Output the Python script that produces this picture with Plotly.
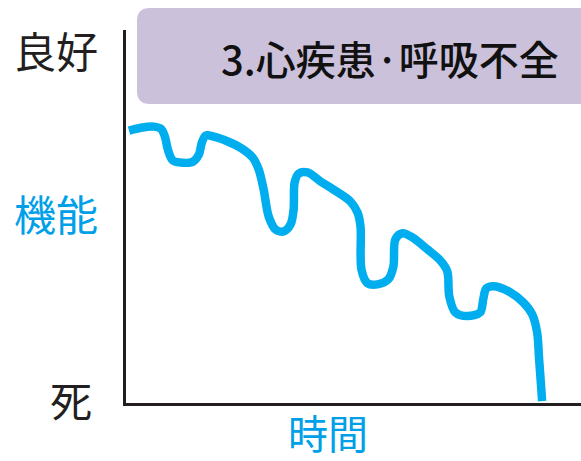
import plotly.graph_objects as go

# Time (0-100 along the axis) and function level (0 = death, 100 = top of axis)
time_vals = [0.66, 3.29, 6.14, 7.68, 8.55, 9.21, 10.31, 12.50, 14.69, 16.01, 16.67, 17.54, 19.30,
             22.37, 25.22, 27.85, 29.17, 30.26, 31.36, 32.89, 34.65, 36.18, 36.84, 37.06, 37.94,
             39.91, 42.76, 45.61, 49.34, 50.88, 51.54, 51.75, 53.07, 55.26, 57.68, 58.77, 59.21,
             60.75, 62.94, 66.23, 69.08, 70.61, 71.05, 72.37, 75.00, 77.85, 78.51, 79.17, 80.70,
             84.43, 87.28, 89.25, 90.35, 90.79, 91.23, 91.45]
function_vals = [73.0, 73.8, 74.1, 73.5, 71.4, 67.9, 65.0, 64.4, 64.7, 66.6, 69.8, 71.7, 71.4,
                 70.1, 68.4, 65.8, 62.6, 57.2, 50.0, 46.5, 46.0, 47.9, 51.9, 59.1, 61.5,
                 61.8, 59.4, 57.2, 54.0, 51.1, 47.3, 35.8, 32.1, 31.8, 33.2, 36.6, 43.9,
                 45.5, 44.4, 41.2, 38.2, 35.3, 28.6, 24.3, 23.3, 24.3, 27.8, 30.7, 31.3,
                 29.7, 27.0, 23.8, 19.0, 11.8, 4.5, 0.5]

title_text = "3.心疾患·呼吸不全"
y_top_label = "良好"
y_mid_label = "機能"
y_bottom_label = "死"
x_label = "時間"

W, H = 581, 461
BLUE = "#00a0e9"
LINE_BLUE = "#00aeef"
DARK = "#231f20"

fig = go.Figure()
fig.add_trace(go.Scatter(
    x=time_vals, y=function_vals, mode="lines",
    line=dict(color=LINE_BLUE, width=8.5, shape="spline", smoothing=0.9),
    hoverinfo="skip", showlegend=False,
))

def px(x):
    return x / W

def py(y):
    return 1 - y / H

# rounded title box
x0, x1, y0, y1, r = 137, 600, 8, 104, 13
path = (f"M {px(x0+r)},{py(y0)} L {px(x1)},{py(y0)} L {px(x1)},{py(y1)} L {px(x0+r)},{py(y1)} "
        f"Q {px(x0)},{py(y1)} {px(x0)},{py(y1-r)} L {px(x0)},{py(y0+r)} "
        f"Q {px(x0)},{py(y0)} {px(x0+r)},{py(y0)} Z")
fig.add_shape(type="path", path=path, xref="paper", yref="paper",
              fillcolor="#cbc1db", line=dict(width=0), layer="below")

font_cjk = "Noto Sans CJK JP"
ann = []
ann.append(dict(text=title_text, x=px(390), y=py(58), font=dict(size=40, color="#111", family=font_cjk, weight=500)))
ann.append(dict(text=y_top_label, x=px(56), y=py(50), font=dict(size=42, color=DARK, family=font_cjk)))
ann.append(dict(text=y_mid_label, x=px(56), y=py(212), font=dict(size=42, color=BLUE, family=font_cjk)))
ann.append(dict(text=y_bottom_label, x=px(71), y=py(398), font=dict(size=42, color=DARK, family=font_cjk)))
ann.append(dict(text=x_label, x=px(328), y=py(432), font=dict(size=40, color=BLUE, family=font_cjk)))
for a in ann:
    a.update(xref="paper", yref="paper", showarrow=False, xanchor="center", yanchor="middle")

fig.update_layout(
    width=W, height=H,
    margin=dict(l=0, r=0, t=0, b=0),
    paper_bgcolor="white", plot_bgcolor="white",
    annotations=ann,
    xaxis=dict(domain=[126 / W, 1], range=[0, 100], showgrid=False, zeroline=False,
               showticklabels=False, ticks="", showline=True, linecolor=DARK, linewidth=3,
               fixedrange=True),
    yaxis=dict(domain=[1 - 403 / H, 1 - 30 / H], range=[0, 100], showgrid=False, zeroline=False,
               showticklabels=False, ticks="", showline=True, linecolor=DARK, linewidth=3,
               fixedrange=True),
)

fig.write_html("out.html", config={"displayModeBar": False},
               post_script="document.body.style.margin='0';document.body.style.overflow='hidden';")
